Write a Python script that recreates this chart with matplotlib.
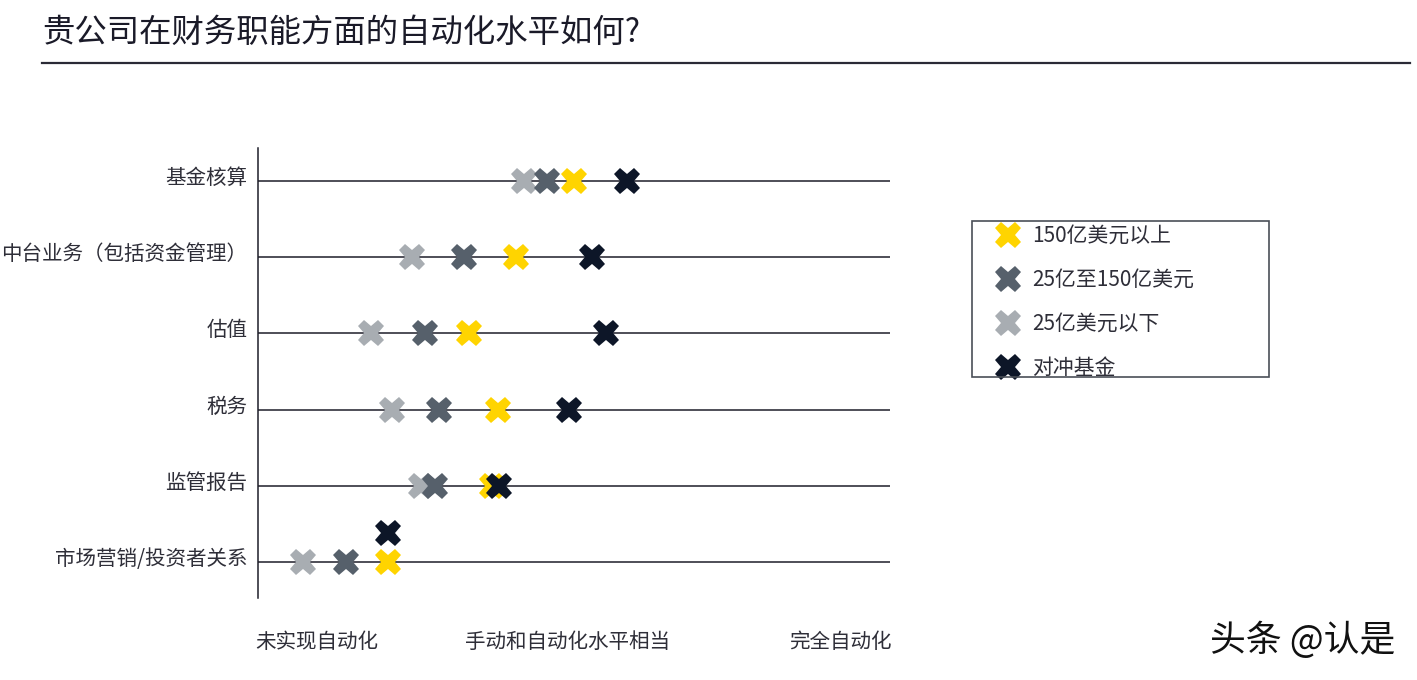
import matplotlib
matplotlib.use("Agg")
import matplotlib.pyplot as plt
from matplotlib.lines import Line2D
from matplotlib.patches import Rectangle

plt.rcParams['font.family'] = ['Noto Sans CJK SC', 'DejaVu Sans']

# ---- data ----
title = "贵公司在财务职能方面的自动化水平如何?"
categories = ["基金核算", "中台业务（包括资金管理）", "估值", "税务", "监管报告", "市场营销/投资者关系"]
series_names = ["150亿美元以上", "25亿至150亿美元", "25亿美元以下", "对冲基金"]
# automation score on a 0-100 scale (0 = 未实现自动化, 100 = 完全自动化 end of axis)
above_15bn = [50.0, 40.8, 33.4, 38.0, 37.0, 20.6]
between_2_5_15bn = [45.8, 32.6, 26.4, 28.6, 28.0, 13.9]
below_2_5bn = [42.1, 24.4, 17.9, 21.2, 25.8, 7.1]
hedge_funds = [58.4, 52.8, 55.1, 49.2, 38.1, 20.6]
x_tick_positions = [9.3, 48.9, 92.1]
x_tick_labels = ["未实现自动化", "手动和自动化水平相当", "完全自动化"]

# ---- style ----
colors = {"150亿美元以上": "#FFD400", "25亿至150亿美元": "#56606B",
          "25亿美元以下": "#A8ADB2", "对冲基金": "#0D1628"}
line_color = "#1E1E2A"
text_color = "#2E2E38"

W, H = 1417, 680
fig = plt.figure(figsize=(W / 100, H / 100), dpi=100)
ax = fig.add_axes([258 / W, 1 - 598 / H, (890 - 258) / W, (598 - 148) / H])

rows = list(range(len(categories)))
ax.hlines(rows, 0, 100, color=line_color, lw=1.1, zorder=1)

ms = 19
series = [("25亿美元以下", below_2_5bn), ("25亿至150亿美元", between_2_5_15bn),
          ("150亿美元以上", above_15bn), ("对冲基金", hedge_funds)]
handles = {}
for z, (name, vals) in enumerate(series):
    ys = list(rows)
    if name == "对冲基金":
        # nudge the overlapping point in the last row upward, as in the original
        ys[-1] = ys[-1] - 0.38
    h, = ax.plot(vals, ys, linestyle="none", marker="X", markersize=ms,
                 markeredgewidth=0, color=colors[name], zorder=3 + z)
    handles[name] = h

ax.set_xlim(0, 100)
ax.set_ylim(5.472, -0.433)
for s in ["top", "right", "bottom"]:
    ax.spines[s].set_visible(False)
ax.spines["left"].set_color(line_color)
ax.spines["left"].set_linewidth(1.1)
ax.set_yticks([])
ax.set_xticks(x_tick_positions)
ax.set_xticklabels(x_tick_labels, fontsize=14.8, color=text_color)
ax.tick_params(axis="x", length=0, pad=24)

for i, c in enumerate(categories):
    ax.text(-0.017, i - 0.04, c, transform=ax.get_yaxis_transform(),
            ha="right", va="center", fontsize=14.8, color=text_color)

# title and rule
fig.text(42 / W, 1 - 33 / H, title, fontsize=23.3, color="#1A1A28", va="center", ha="left")
fig.add_artist(Line2D([42 / W, 1410 / W], [1 - 63 / H, 1 - 63 / H], color="#2A2A36", lw=1.6))

# legend
leg = ax.legend([handles[n] for n in series_names], series_names,
                loc="upper left", bbox_to_anchor=(995.5 / W, 1 - 225 / H),
                bbox_transform=fig.transFigure, frameon=False, fontsize=15,
                handlelength=1.2, handletextpad=0.55, labelspacing=1.06,
                borderpad=0, borderaxespad=0, labelcolor=text_color)
fig.add_artist(Rectangle((972 / W, 1 - 377 / H), (1269 - 972) / W, (377 - 221) / H,
                         transform=fig.transFigure, fill=False, edgecolor="#4A4F58", lw=1.2))

# watermark
fig.text(1210 / W, 1 - 640 / H, "头条 @认是", fontsize=25.8, color="#111111",
         va="center", ha="left")

fig.savefig("out.png", dpi=100)
